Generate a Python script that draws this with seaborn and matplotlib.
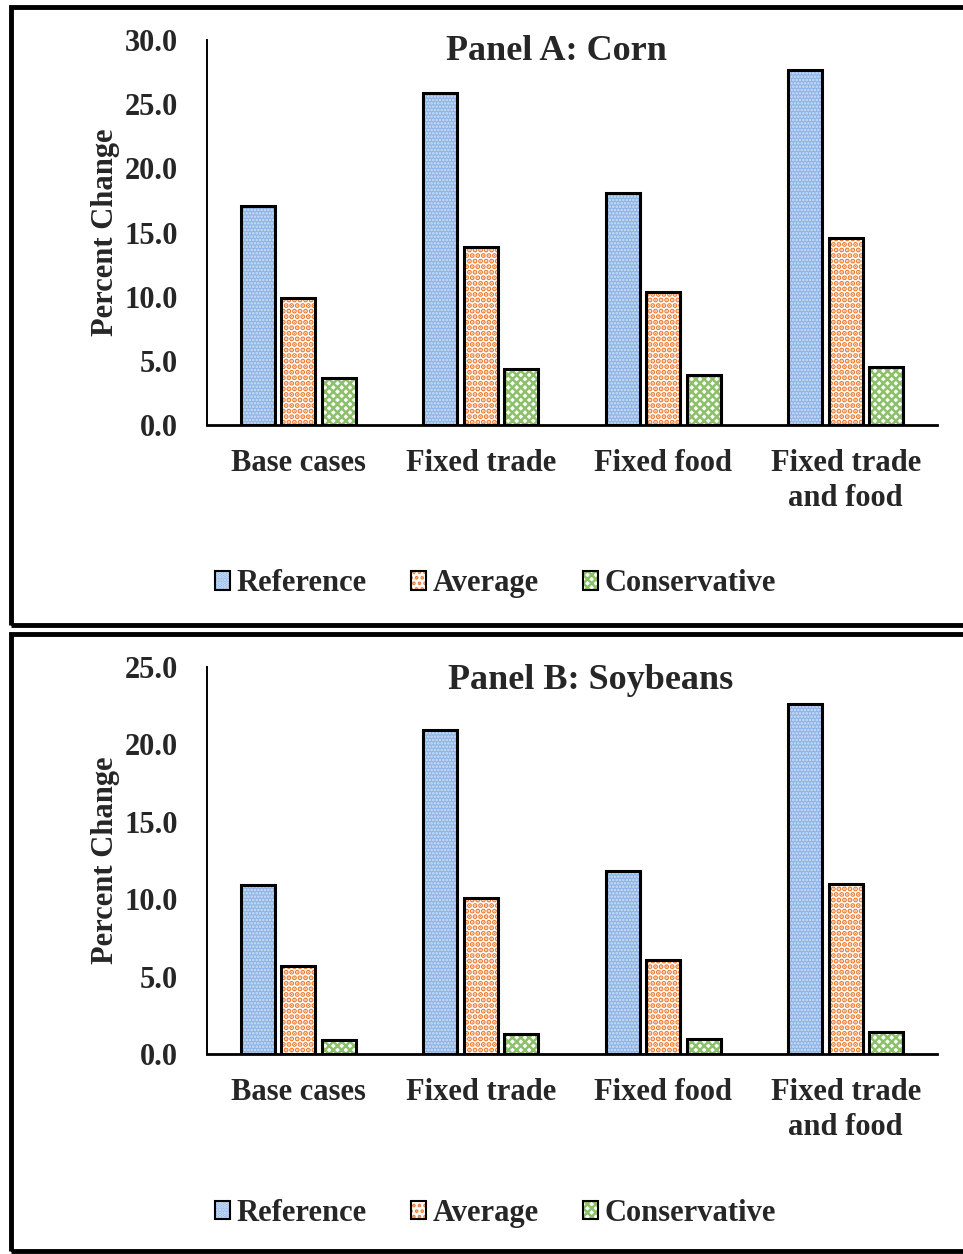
import numpy as np
import pandas as pd
import seaborn as sns
import matplotlib.pyplot as plt
from matplotlib.patches import Rectangle, Patch
from matplotlib.ticker import FormatStrFormatter

categories = ['Base cases', 'Fixed trade', 'Fixed food', 'Fixed trade\nand food']
scenarios = ['Reference', 'Average', 'Conservative']

corn_ref = [17.1, 25.9, 18.1, 27.7]
corn_avg = [9.9, 13.9, 10.4, 14.6]
corn_cons = [3.7, 4.4, 3.9, 4.5]

soy_ref = [10.9, 20.9, 11.8, 22.6]
soy_avg = [5.7, 10.1, 6.1, 11.0]
soy_cons = [0.9, 1.3, 1.0, 1.4]

# face, hatch colour, hatch pattern per scenario
faces = ['#8db4e5', 'white', 'white']
hatch_cols = ['#d2e2f6', '#ee7d31', '#8cc06a']
hatches = ['.....', '...', 'xxxx']
hatch_lws = [1.2, 2.6, 1.8]

sns.set_style('white')
plt.rcParams['font.family'] = ['Liberation Serif', 'DejaVu Serif']
plt.rcParams['font.weight'] = 'bold'
plt.rcParams['hatch.linewidth'] = 1.8

FS = 22
W, H = 963, 1254
fig = plt.figure(figsize=(W / 100, H / 100), dpi=100)


def px_axes(left, top, right, bottom):
    return fig.add_axes([left / W, 1 - bottom / H, (right - left) / W, (bottom - top) / H])


def make_df(ref, avg, cons):
    rows = []
    for name, vals in zip(scenarios, [ref, avg, cons]):
        for c, v in zip(categories, vals):
            rows.append({'cat': c, 'scen': name, 'val': v})
    return pd.DataFrame(rows)


def style_fill(p, i):
    p.set_facecolor(faces[i])
    p.set_edgecolor(hatch_cols[i])
    p.set_hatch(hatches[i])
    p.set_linewidth(0)
    if hasattr(p, 'set_hatch_linewidth'):
        p.set_hatch_linewidth(hatch_lws[i])


def draw_panel(ax, df, ymax, title, tx, ty):
    sns.barplot(data=df, x='cat', y='val', hue='scen', order=categories,
                hue_order=scenarios, width=0.666, gap=0.16, ax=ax,
                linewidth=0, legend=False, errorbar=None)
    for i, cont in enumerate(ax.containers):
        for p in cont:
            style_fill(p, i)
            ax.add_patch(Rectangle(p.get_xy(), p.get_width(), p.get_height(),
                                   fill=False, ec='black', lw=2.2, zorder=3))
    ax.set_ylim(0, ymax)
    ax.set_yticks(np.arange(0, ymax + 0.1, 5))
    ax.yaxis.set_major_formatter(FormatStrFormatter('%.1f'))
    ax.set_xlabel('')
    ax.set_ylabel('Percent Change', fontsize=FS, fontweight='bold', labelpad=3)
    ax.tick_params(axis='y', length=0, pad=21, labelsize=FS)
    ax.tick_params(axis='x', length=0, pad=17, labelsize=FS)
    for lab in ax.get_xticklabels() + ax.get_yticklabels():
        lab.set_fontweight('bold')
        lab.set_linespacing(1.3)
    sns.despine(ax=ax)
    ax.spines['left'].set_linewidth(1.4)
    ax.spines['bottom'].set_linewidth(2.0)
    ax.spines['left'].set_color('black')
    ax.spines['bottom'].set_color('black')
    ax.text(tx, ty, title, transform=ax.transAxes, ha='center', va='center',
            fontsize=26, fontweight='bold')
    handles = []
    for i in range(3):
        fill = Patch()
        style_fill(fill, i)
        handles.append((fill, Patch(fill=False, edgecolor='black', lw=1.5)))
    leg = ax.legend(handles, scenarios, loc='center', bbox_to_anchor=(0.395, -0.412),
                    ncol=3, frameon=False, fontsize=FS, handlelength=0.5,
                    handleheight=0.55, handletextpad=0.2, columnspacing=1.45)
    for t in leg.get_texts():
        t.set_fontweight('bold')


# panel frames
for top, bottom in [(7, 625), (634, 1251)]:
    fig.add_artist(Rectangle((11 / W, 1 - bottom / H), 1.0, (bottom - top) / H,
                             transform=fig.transFigure, fill=False, ec='black', lw=3.5))

axA = px_axes(207, 40, 937, 425)
draw_panel(axA, make_df(corn_ref, corn_avg, corn_cons), 30, 'Panel A: Corn', 0.479, 0.969)

axB = px_axes(207, 667, 937, 1054)
draw_panel(axB, make_df(soy_ref, soy_avg, soy_cons), 25, 'Panel B: Soybeans', 0.526, 0.966)

fig.savefig('out.png', dpi=100)
